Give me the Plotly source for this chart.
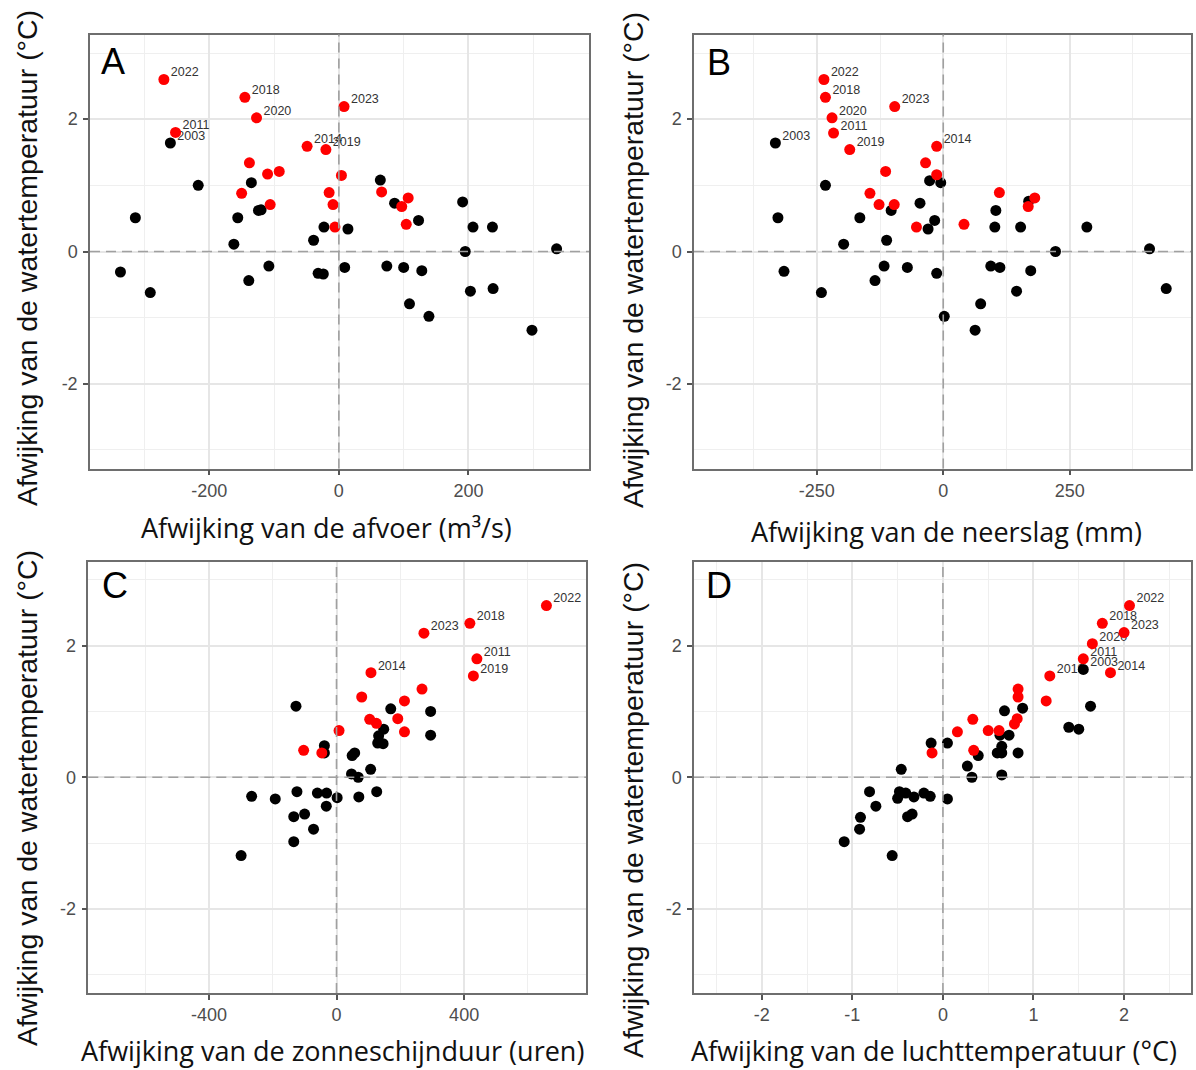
import plotly.graph_objects as go

W, H = 1196, 1070

# ---------------- DATA ----------------
# Panel A: deviation of discharge (m3/s) vs deviation of water temperature
a_red_x = [-270, -145, -127, 8, -252, -49, -20, -138, -110, -92, 4, -150, -15, -106, -9, -6, 66, 107, 97, 104]
a_red_y = [2.60, 2.33, 2.02, 2.19, 1.80, 1.59, 1.54, 1.34, 1.17, 1.21, 1.15, 0.88, 0.89, 0.71, 0.71, 0.37, 0.90, 0.81, 0.68, 0.41]
a_red_lab = ["2022", "2018", "2020", "2023", "2011", "2014", "2019"] + [""] * 13
a_blk_x = [-260, -217, -314, -337, -291, -135, -124, -120, -156, -162, -139, -108, -39, -23, -32, -24, 14, 9,
           64, 86, 123, 74, 100, 128, 109, 139, 191, 207, 237, 195, 203, 238, 336, 298]
a_blk_y = [1.64, 1.00, 0.51, -0.31, -0.62, 1.04, 0.62, 0.63, 0.51, 0.11, -0.44, -0.22, 0.17, 0.37, -0.33, -0.34, 0.34, -0.24,
           1.08, 0.73, 0.47, -0.22, -0.24, -0.29, -0.79, -0.98, 0.75, 0.37, 0.37, 0.00, -0.60, -0.56, 0.04, -1.19]
a_blk_lab = ["2003"] + [""] * 33

# Panel B: deviation of precipitation (mm)
b_red_x = [-236, -233, -220, -217, -96, -185, -13, -35, -13, -114, -145, -127, -97, -53, 41, 111, 181, 168]
b_red_y = [2.60, 2.33, 2.02, 1.79, 2.19, 1.54, 1.59, 1.34, 1.16, 1.21, 0.88, 0.71, 0.71, 0.37, 0.41, 0.89, 0.81, 0.68]
b_red_lab = ["2022", "2018", "2020", "2011", "2023", "2019", "2014"] + [""] * 11
b_blk_x = [-332, -233, -327, -315, -241, -197, -165, -135, -117, -112, -103, -71, -46, -30, -17, -13, -27, -5,
           2, 63, 74, 94, 112, 104, 102, 145, 153, 169, 173, 222, 284, 408, 441]
b_blk_y = [1.64, 1.00, 0.51, -0.30, -0.62, 0.11, 0.51, -0.44, -0.22, 0.17, 0.62, -0.24, 0.73, 0.34, 0.47, -0.33, 1.07, 1.04,
           -0.98, -1.19, -0.79, -0.22, -0.24, 0.62, 0.37, -0.60, 0.37, 0.76, -0.29, 0.00, 0.37, 0.04, -0.56]
b_blk_lab = ["2003"] + [""] * 32

# Panel C: deviation of sunshine duration (hours)
c_red_x = [658, 418, 274, 440, 429, 108, 268, 79, 213, 192, 104, 125, 213, 8, -103, -46]
c_red_y = [2.61, 2.34, 2.19, 1.80, 1.54, 1.59, 1.34, 1.22, 1.16, 0.89, 0.88, 0.82, 0.69, 0.71, 0.41, 0.37]
c_red_lab = ["2022", "2018", "2023", "2011", "2019", "2014"] + [""] * 10
c_blk_x = [-127, 170, 295, 295, 148, 132, 146, 129, -38, -38, 49, 57, 107, 47, 68,
           -266, -192, -124, -60, -31, 2, 70, 126, -32, -134, -100, -72, -134, -299]
c_blk_y = [1.08, 1.04, 1.00, 0.64, 0.73, 0.63, 0.51, 0.52, 0.48, 0.37, 0.33, 0.37, 0.12, 0.05, 0.00,
           -0.29, -0.33, -0.22, -0.24, -0.24, -0.31, -0.30, -0.22, -0.44, -0.60, -0.56, -0.79, -0.98, -1.19]
c_blk_lab = [""] * 29

# Panel D: deviation of air temperature (degC)
d_red_x = [2.06, 1.76, 2.00, 1.65, 1.55, 1.85, 1.18, 0.83, 0.83, 1.14, 0.33, 0.82, 0.79, 0.16, 0.50, 0.62, 0.34, -0.12]
d_red_y = [2.61, 2.34, 2.20, 2.03, 1.80, 1.59, 1.54, 1.34, 1.22, 1.16, 0.88, 0.89, 0.81, 0.69, 0.71, 0.71, 0.41, 0.37]
d_red_lab = ["2022", "2018", "2023", "2020", "2011", "2014", "2019"] + [""] * 11
d_blk_x = [1.55, 1.63, 1.39, 1.50, 0.88, 0.68, 0.73, 0.63, 0.65, 0.60, 0.65, 0.83, 0.39, 0.27, 0.32, 0.65, -0.13,
           0.05, 0.05, -0.46, -0.81, -0.74, -0.48, -0.41, -0.50, -0.32, -0.21, -0.14, -0.91, -0.92, -0.39, -0.34, -1.09, -0.56]
d_blk_y = [1.64, 1.08, 0.76, 0.73, 1.05, 1.01, 0.64, 0.64, 0.47, 0.37, 0.37, 0.37, 0.33, 0.17, 0.00, 0.035, 0.52,
           0.52, -0.33, 0.12, -0.22, -0.44, -0.22, -0.24, -0.32, -0.30, -0.24, -0.29, -0.61, -0.79, -0.60, -0.56, -0.98, -1.19]
d_blk_lab = ["2003"] + [""] * 33

panel_letters = ["A", "B", "C", "D"]
x_titles = ["Afwijking van de afvoer (m³/s)", "Afwijking van de neerslag (mm)",
            "Afwijking van de zonneschijnduur (uren)", "Afwijking van de luchttemperatuur (°C)"]
y_title = "Afwijking van de watertemperatuur (°C)"
x_ranges = [[-384, 386], [-493, 490], [-778, 782], [-2.748, 2.739]]
x_tickvals = [[-200, 0, 200], [-250, 0, 250], [-400, 0, 400], [-2, -1, 0, 1, 2]]
x_ticktext = [["-200", "0", "200"], ["-250", "0", "250"], ["-400", "0", "400"], ["-2", "-1", "0", "1", "2"]]
x_minor_step = [100, 125, 200, 0.5]
y_range = [-3.28, 3.28]
y_tickvals = [-2, 0, 2]
y_ticktext = ["-2", "0", "2"]

# ---------------- LAYOUT (pixel boxes) ----------------
boxes = [(90, 589, 34.5, 468.5), (694, 1191, 34.5, 468.5),
         (88.3, 586, 561.5, 993), (694, 1191, 561.5, 993)]
letter_pos = [(99, 61), (705, 62), (100, 585), (704, 585)]
xtitle_pos = [(326, 527), (946, 531), (332, 1050), (934, 1050)]
ytitle_pos = [(27, 258), (633, 260), (27, 798), (633, 810)]

RED = "#FF0000"
BLK = "#000000"
fig = go.Figure()

data = [
    (a_red_x, a_red_y, a_red_lab, a_blk_x, a_blk_y, a_blk_lab),
    (b_red_x, b_red_y, b_red_lab, b_blk_x, b_blk_y, b_blk_lab),
    (c_red_x, c_red_y, c_red_lab, c_blk_x, c_blk_y, c_blk_lab),
    (d_red_x, d_red_y, d_red_lab, d_blk_x, d_blk_y, d_blk_lab),
]

NB = "\u00a0"
for i, (rx, ry, rl, bx, by, bl) in enumerate(data):
    xa = "x" if i == 0 else f"x{i+1}"
    ya = "y" if i == 0 else f"y{i+1}"
    lx = rx + bx
    ly = ry + by
    lt = [(NB * 2 + t) if t else "" for t in (rl + bl)]
    fig.add_trace(go.Scatter(x=lx, y=ly, text=lt, mode="text", textposition="top right",
                             textfont=dict(family="Liberation Sans, Arial", size=12.5, color="#333333"),
                             xaxis=xa, yaxis=ya, showlegend=False, hoverinfo="skip"))
    fig.add_trace(go.Scatter(x=bx, y=by, mode="markers", marker=dict(color=BLK, size=11),
                             xaxis=xa, yaxis=ya, showlegend=False))
    fig.add_trace(go.Scatter(x=rx, y=ry, mode="markers", marker=dict(color=RED, size=11),
                             xaxis=xa, yaxis=ya, showlegend=False))

layout = dict(width=W, height=H, margin=dict(l=0, r=0, t=0, b=0),
              paper_bgcolor="white", plot_bgcolor="white", showlegend=False)

tickfont = dict(family="Liberation Sans, Arial", size=18, color="#4d4d4d")
shapes = []
annotations = []
for i in range(4):
    x0, x1, y0, y1 = boxes[i]
    sfx = "" if i == 0 else str(i + 1)
    common = dict(showgrid=True, gridcolor="#E6E6E6", gridwidth=1.6, zeroline=False,
                  showline=True, mirror=True, linecolor="#6e6e6e", linewidth=1.5,
                  ticks="outside", ticklen=5, tickwidth=1.5, tickcolor="#555555",
                  tickfont=tickfont, tickmode="array")
    layout["xaxis" + sfx] = dict(common, domain=[x0 / W, x1 / W], range=x_ranges[i],
                                 tickvals=x_tickvals[i], ticktext=x_ticktext[i],
                                 anchor="y" + sfx, ticklabelstandoff=0,
                                 minor=dict(showgrid=True, gridcolor="#EFEFEF", gridwidth=1.2,
                                            dtick=x_minor_step[i], tick0=0))
    layout["yaxis" + sfx] = dict(common, domain=[1 - y1 / H, 1 - y0 / H], range=y_range,
                                 tickvals=y_tickvals, ticktext=y_ticktext,
                                 anchor="x" + sfx, ticklabelstandoff=2,
                                 minor=dict(showgrid=True, gridcolor="#EFEFEF", gridwidth=1.2,
                                            dtick=1, tick0=0))
    xr = "x" + sfx
    yr = "y" + sfx
    dash = dict(color="#a0a0a0", width=1.6, dash="10px,6px")
    shapes.append(dict(type="line", xref=xr, yref=yr + " domain", x0=0, x1=0, y0=0, y1=1,
                       line=dash, layer="above"))
    shapes.append(dict(type="line", xref=xr + " domain", yref=yr, x0=0, x1=1, y0=0, y1=0,
                       line=dash, layer="above"))
    lx, ly = letter_pos[i]
    annotations.append(dict(text=panel_letters[i], xref="paper", yref="paper", x=lx / W, y=1 - ly / H,
                            xanchor="left", yanchor="middle", showarrow=False,
                            font=dict(family="Liberation Sans, Arial", size=36, color="black")))
    tx, ty = xtitle_pos[i]
    annotations.append(dict(text=x_titles[i], xref="paper", yref="paper", x=tx / W, y=1 - ty / H,
                            xanchor="center", yanchor="middle", showarrow=False,
                            font=dict(family="Open Sans", size=27, color="#111111")))
    vx, vy = ytitle_pos[i]
    annotations.append(dict(text=y_title, xref="paper", yref="paper", x=vx / W, y=1 - vy / H,
                            xanchor="center", yanchor="middle", showarrow=False, textangle=-90,
                            font=dict(family="Liberation Sans, Arial", size=28.5, color="#111111")))

layout["shapes"] = shapes
layout["annotations"] = annotations
fig.update_layout(**layout)
fig.write_html("out.html")
